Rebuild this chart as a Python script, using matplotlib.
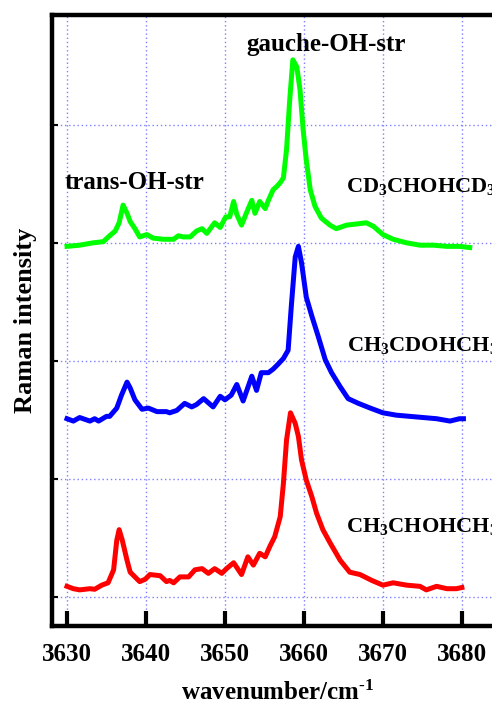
import matplotlib
matplotlib.use("Agg")
import matplotlib.pyplot as plt

plt.rcParams['font.family'] = ['Liberation Serif', 'DejaVu Serif']
plt.rcParams['font.weight'] = 'bold'
plt.rcParams['mathtext.fontset'] = 'custom'
plt.rcParams['mathtext.rm'] = 'Liberation Serif:bold'
plt.rcParams['mathtext.bf'] = 'Liberation Serif:bold'
plt.rcParams['mathtext.it'] = 'Liberation Serif:bold'

# Raman spectra (wavenumber in cm^-1, intensity offset per trace)
green_x = [3630.0, 3631.6, 3633.3, 3634.6, 3635.4, 3636.1, 3636.6, 3637.1, 3637.6, 3638.0,
           3638.6, 3639.2, 3640.1, 3640.9, 3642.2, 3643.5, 3644.1, 3644.7, 3645.6, 3646.4,
           3647.1, 3647.7, 3648.7, 3649.4, 3650.1, 3650.6, 3651.1, 3651.5, 3652.1, 3652.7,
           3653.4, 3653.8, 3654.4, 3655.1, 3655.5, 3656.1, 3656.6, 3657.0, 3657.4, 3657.8,
           3658.2, 3658.6, 3659.1, 3659.5, 3659.9, 3660.3, 3660.8, 3661.4, 3662.2, 3663.3,
           3664.1, 3665.4, 3666.7, 3667.9, 3668.8, 3670.0, 3671.3, 3673.0, 3674.7, 3676.4,
           3678.1, 3679.7, 3681.0]
green_y = [2.97, 2.98, 3.00, 3.01, 3.06, 3.10, 3.17, 3.32, 3.25, 3.18,
           3.12, 3.05, 3.07, 3.04, 3.03, 3.03, 3.06, 3.05, 3.05, 3.10,
           3.12, 3.08, 3.17, 3.13, 3.22, 3.22, 3.35, 3.24, 3.15, 3.25,
           3.36, 3.25, 3.35, 3.29, 3.36, 3.45, 3.48, 3.51, 3.55, 3.79,
           4.21, 4.55, 4.49, 4.30, 3.96, 3.70, 3.45, 3.31, 3.21, 3.15,
           3.12, 3.15, 3.16, 3.17, 3.14, 3.07, 3.03, 3.00, 2.98, 2.98,
           2.97, 2.97, 2.96]

blue_x = [3630.0, 3630.8, 3631.6, 3632.9, 3633.5, 3634.0, 3635.0, 3635.4, 3636.3, 3636.9,
          3637.6, 3638.0, 3638.6, 3639.5, 3640.3, 3641.4, 3642.6, 3643.0, 3643.9, 3644.9,
          3645.8, 3646.4, 3647.3, 3648.5, 3649.4, 3650.0, 3650.8, 3651.5, 3652.3, 3653.4,
          3654.0, 3654.6, 3655.5, 3656.1, 3656.7, 3657.4, 3658.0, 3658.4, 3658.9, 3659.3,
          3659.7, 3660.3, 3661.0, 3661.8, 3662.7, 3663.5, 3664.6, 3665.6, 3666.9, 3668.4,
          3670.0, 3671.7, 3673.4, 3675.1, 3676.8, 3678.5, 3679.7, 3680.2]
blue_y = [1.51, 1.49, 1.52, 1.49, 1.51, 1.49, 1.53, 1.53, 1.60, 1.71,
          1.82, 1.77, 1.67, 1.59, 1.60, 1.57, 1.57, 1.56, 1.58, 1.64,
          1.61, 1.63, 1.68, 1.61, 1.70, 1.67, 1.71, 1.80, 1.66, 1.87,
          1.75, 1.90, 1.90, 1.93, 1.97, 2.02, 2.09, 2.46, 2.88, 2.97,
          2.83, 2.54, 2.38, 2.21, 2.01, 1.90, 1.78, 1.68, 1.64, 1.60,
          1.56, 1.54, 1.53, 1.52, 1.51, 1.49, 1.51, 1.51]

red_x = [3630.0, 3630.8, 3631.6, 3632.9, 3633.5, 3634.4, 3635.2, 3635.9, 3636.3, 3636.6,
         3637.0, 3637.6, 3638.0, 3638.6, 3639.2, 3639.9, 3640.5, 3641.8, 3642.6, 3643.0,
         3643.5, 3644.3, 3645.4, 3646.2, 3647.1, 3647.9, 3648.7, 3649.6, 3650.2, 3651.1,
         3652.1, 3652.9, 3653.6, 3654.4, 3655.1, 3655.7, 3656.3, 3657.0, 3657.4, 3657.8,
         3658.3, 3658.9, 3659.3, 3659.7, 3660.3, 3661.0, 3661.6, 3662.4, 3663.3, 3664.6,
         3665.8, 3667.1, 3668.6, 3670.0, 3671.3, 3673.0, 3674.7, 3675.5, 3676.8, 3678.1,
         3679.3, 3680.0]
red_y = [0.09, 0.07, 0.06, 0.07, 0.065, 0.10, 0.12, 0.23, 0.48, 0.57,
         0.48, 0.31, 0.21, 0.17, 0.13, 0.15, 0.19, 0.18, 0.13, 0.14,
         0.12, 0.17, 0.17, 0.23, 0.24, 0.20, 0.24, 0.20, 0.24, 0.29,
         0.19, 0.34, 0.27, 0.37, 0.34, 0.43, 0.51, 0.68, 0.96, 1.33,
         1.56, 1.47, 1.36, 1.16, 0.99, 0.85, 0.71, 0.57, 0.46, 0.31,
         0.21, 0.19, 0.14, 0.10, 0.12, 0.10, 0.09, 0.06, 0.09, 0.07,
         0.07, 0.08]

x_ticks = [3630, 3640, 3650, 3660, 3670, 3680]
y_ticks = [0, 1, 2, 3, 4]

fig = plt.figure(figsize=(4.92, 7.05), dpi=100)
ax = fig.add_axes([51.7 / 492, 79 / 705, 452 / 492, 611 / 705])

ax.plot(green_x, green_y, color='#00ff00', lw=3.6, solid_joinstyle='round', zorder=3)
ax.plot(blue_x, blue_y, color='#0000ff', lw=3.6, solid_joinstyle='round', zorder=3)
ax.plot(red_x, red_y, color='#ff0000', lw=3.6, solid_joinstyle='round', zorder=3)

ax.set_xlim(3628.06, 3685.3)
ax.set_ylim(-0.246, 4.93)
ax.set_xticks(x_ticks)
ax.set_yticks(y_ticks)
ax.set_yticklabels([])
ax.grid(True, color='#7f7fff', linestyle=(0, (1, 2)), lw=1.0, zorder=1)

for s in ax.spines.values():
    s.set_linewidth(3.2)
ax.tick_params(axis='x', direction='in', length=11, width=3, labelsize=18, pad=12)
ax.tick_params(axis='y', direction='in', length=4, width=1.5)
for lab in ax.get_xticklabels():
    lab.set_fontweight('bold')

ax.set_xlabel(r'wavenumber/cm$^{\text{-}1}$', fontsize=18, fontweight='bold', labelpad=11)
ax.set_ylabel('Raman intensity', fontsize=19, fontweight='bold', labelpad=7)

ax.text(3662.8, 4.68, 'gauche-OH-str', fontsize=18, fontweight='bold', ha='center', va='center')
ax.text(3629.7, 3.51, 'trans-OH-str', fontsize=18, fontweight='bold', ha='left', va='center')
ax.text(3665.3, 3.43, r'CD$_3$CHOHCD$_3$', fontsize=16, fontweight='bold', ha='left', va='baseline')
ax.text(3665.4, 2.08, r'CH$_3$CDOHCH$_3$', fontsize=16, fontweight='bold', ha='left', va='baseline')
ax.text(3665.3, 0.55, r'CH$_3$CHOHCH$_3$', fontsize=16, fontweight='bold', ha='left', va='baseline')

fig.savefig('out.png', dpi=100)
